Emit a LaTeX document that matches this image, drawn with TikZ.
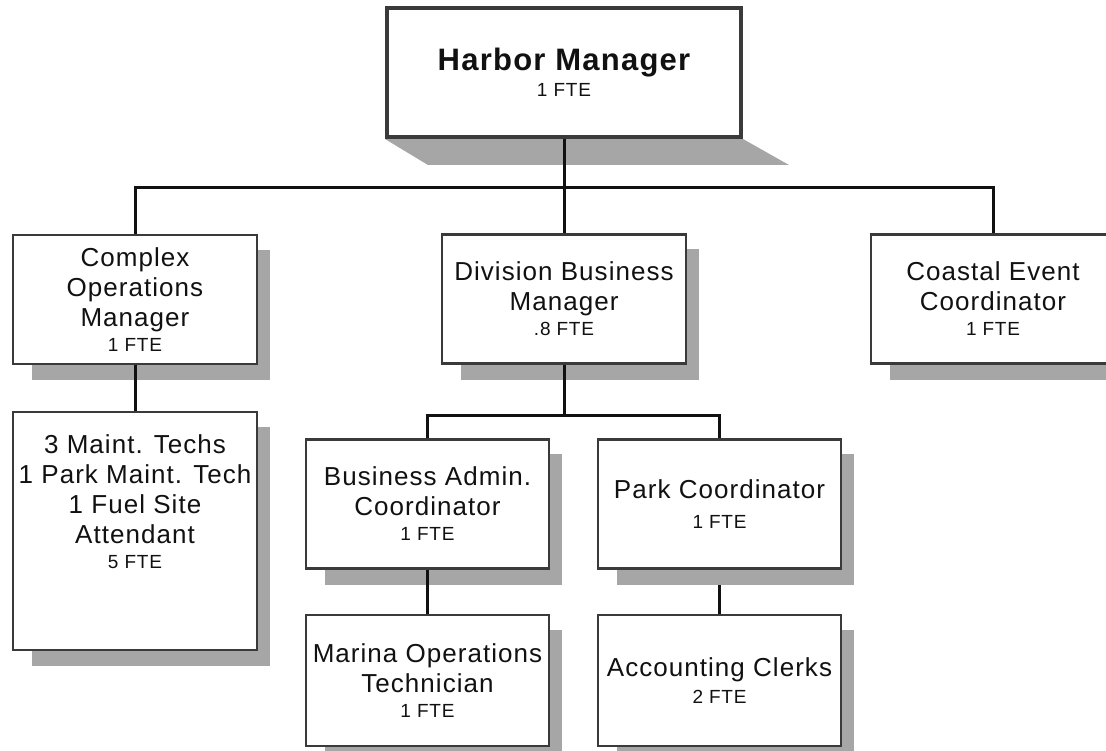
\documentclass[tikz,border=0pt]{standalone}
\usepackage{fontspec}
\setmainfont{Liberation Sans}[LetterSpace=4]
\usepackage{tikz}
\usetikzlibrary{calc,backgrounds}
\definecolor{ink}{HTML}{111111}
\definecolor{edge}{HTML}{3A3A3A}
\definecolor{dropgray}{HTML}{A6A6A6}
\newcommand{\fte}[1]{{\fontsize{19}{22}\selectfont #1}}
\tikzset{
  post/.style={rectangle, draw=edge, fill=white, line width=2.7pt, minimum width=244pt, minimum height=129pt,
    inner sep=2pt, align=center, font=\fontsize{26}{30}\selectfont, text=ink},
  wire/.style={draw=ink, line width=3pt},
  drop/.style={fill=dropgray},
}

\begin{document}
\begin{tikzpicture}[x=1pt, y=-1pt]
\clip (0,0) rectangle (1106,751);
% top
\node[post, minimum width=354pt, line width=4pt] (hm) at (564,72.5) {{\fontsize{31}{34}\selectfont\bfseries Harbor Manager}\\[-4pt]\fte{1 FTE}};
% second row
\node[post] (com) at (135,299.5) {Complex\\Operations\\Manager\\[-5pt]\fte{1 FTE}};
\node[post] (dbm) at (564,299) {Division Business\\Manager\\[-5pt]\fte{.8 FTE}};
\node[post] (cec) at (993,299) {Coastal Event\\Coordinator\\[-5pt]\fte{1 FTE}};
% lower rows
\node[post, minimum height=238pt, text depth=58pt] (mnt) at (135,531) {3 Maint. Techs\\1 Park Maint. Tech\\1 Fuel Site\\Attendant\\[-5pt]\fte{5 FTE}};
\node[post, minimum width=243pt] (bac) at (427.5,504) {Business Admin.\\Coordinator\\[-5pt]\fte{1 FTE}};
\node[post, minimum width=243pt] (pkc) at (719.5,504) {Park Coordinator\\\fte{1 FTE}};
\node[post, minimum width=243pt, minimum height=131pt] (mot) at (427.5,680.5) {Marina Operations\\Technician\\[-5pt]\fte{1 FTE}};
\node[post, minimum width=243pt, minimum height=131pt] (acc) at (719.5,680.5) {Accounting Clerks\\[-3pt]\fte{2 FTE}};
\coordinate (bus) at (564,188);
\coordinate (dbus) at (564,415);
\begin{scope}[on background layer]
\fill[white] (0,0) rectangle (1106,751);
\draw[wire] (pkc.south) -- (acc.north);
\fill[drop] (hm.south west) -- (hm.south east) -- ++(46,26) -- ($(hm.south west)+(43,26)$) -- cycle;
\foreach \n in {com,dbm,cec,mnt,bac,pkc,mot,acc}
  \fill[drop] ($(\n.south west)+(20,15)$) rectangle ($(\n.north east)+(12,16)$);
\draw[wire] (hm.south) -- (bus);
\draw[wire] (com.north) |- (bus) -| (cec.north);
\draw[wire] (bus) -- (dbm.north);
\draw[wire] (com.south) -- (mnt.north);
\draw[wire] (dbm.south) -- (dbus);
\draw[wire] (bac.north) |- (dbus) -| (pkc.north);
\draw[wire] (bac.south) -- (mot.north);
\end{scope}
\end{tikzpicture}
\end{document}
